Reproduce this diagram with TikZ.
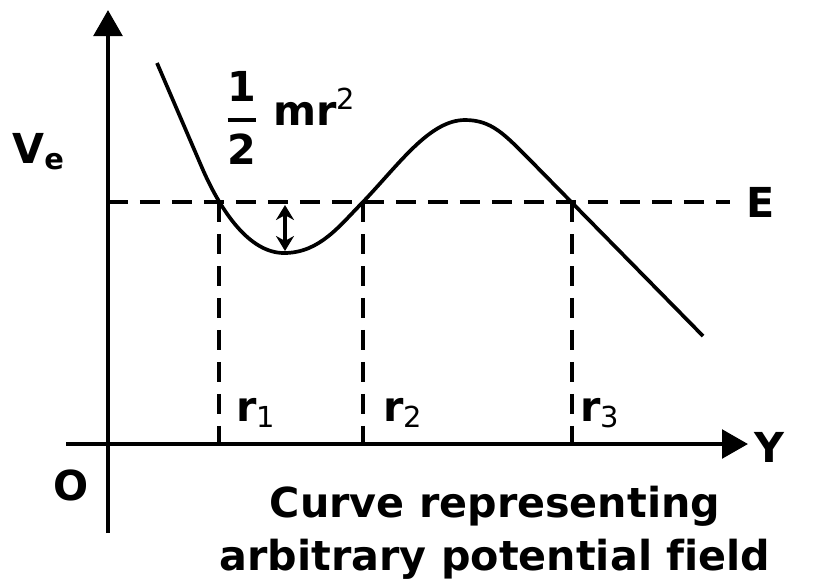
\documentclass[tikz,border=0pt]{standalone}
\usepackage{amsmath}
\usepackage{fontspec}
\setmainfont{DejaVu Sans}[Ligatures=NoCommon]
\usetikzlibrary{arrows.meta, positioning, calc}

\begin{document}
\begin{tikzpicture}[
    x=0.02cm, y=-0.02cm,
    axis/.style={-{Triangle[length=0.52cm, width=0.57cm]}, line width=2.3pt},
    curve/.style={line width=2.1pt, line join=round},
    guide/.style={line width=2.2pt, dash pattern=on 0.4cm off 0.24cm},
    gap/.style={{Stealth[length=0.3cm, width=0.36cm]}-{Stealth[length=0.3cm, width=0.36cm]}, line width=1.9pt},
    lbl/.style={font=\fontsize{23.5}{28}\selectfont\bfseries, inner sep=0pt}
]
\useasboundingbox (0,0) rectangle (814,583);

% AXES
\coordinate (O) at (108,444);
\coordinate (xstart) at (66,444);
\coordinate (xend) at (748,444);
\coordinate (ybot) at (108,533);
\coordinate (ytop) at (108,10);
\draw[axis] (ybot) -- (ytop);
\draw[axis] (xstart) -- (xend);

% Energy level E
\coordinate (Ea) at (108,202);
\coordinate (Eb) at (730,202);
\draw[guide] (Ea) -- (Eb);
\node[lbl, right=0.32cm of Eb] (Elab) {E};

% Turning points r1, r2, r3
\foreach \x/\lx/\n in {219/236/1, 363/383/2, 572/580/3} {
    \coordinate (top\n) at (\x,202);
    \coordinate (bot\n) at (\x,444);
    \draw[guide] (top\n) -- (bot\n);
    \node[lbl, anchor=base west] (r\n) at (\lx,421) {r\textsubscript{\mdseries\n}};
}

% Potential curve
\draw[curve] (157,63) -- (203,170) .. controls (222,213) and (250,253) .. (284,253)
    .. controls (320,253) and (340,225) .. (363,202)
    .. controls (400,163) and (430,120) .. (465,120)
    .. controls (492,120) and (505,135) .. (530,160) -- (703,336);

% Kinetic energy gap
\coordinate (gtop) at (285,205);
\coordinate (gbot) at (285,251);
\draw[gap] (gtop) -- (gbot);
\node[lbl] (half) at (242,118) {$\genfrac{}{}{2.2pt}{0}{\text{1}}{\text{2}}$};
\node[lbl, anchor=base west] (mr) at (273,125) {mr\textsuperscript{\mdseries 2}};

% Axis labels
\node[lbl, anchor=base west] (Ve) at (12,163) {V\textsubscript{e}};
\node[lbl] (Olab) at (71,485) {O};
\node[lbl] (Ylab) at (769,447) {Y};

% Caption
\node[lbl, anchor=base] (cap1) at (495,517) {Curve representing};
\node[lbl, anchor=base] (cap2) at (495,570) {arbitrary potential field};

\end{tikzpicture}
\end{document}
